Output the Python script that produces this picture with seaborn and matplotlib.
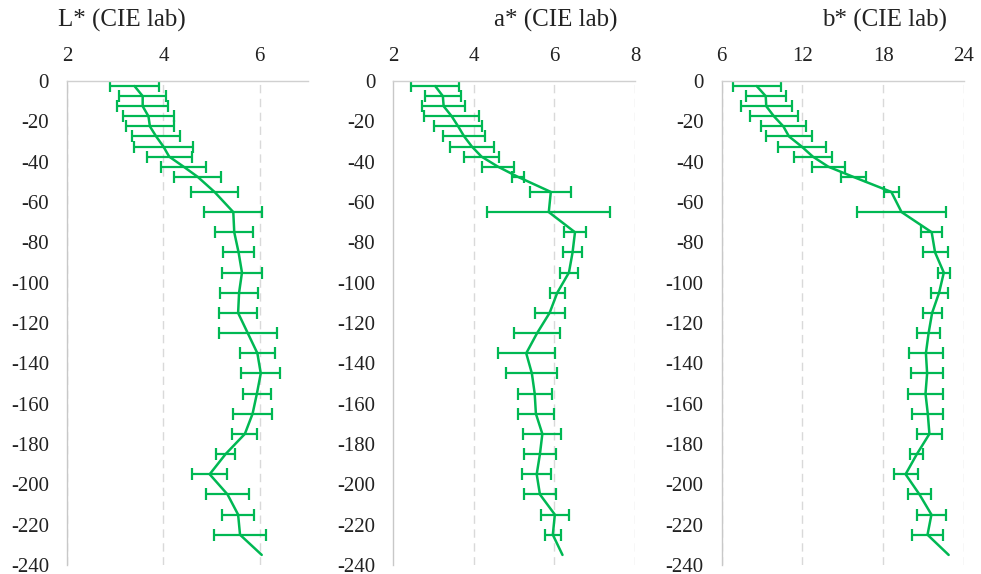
import numpy as np
import pandas as pd
import matplotlib
matplotlib.use("Agg")
import matplotlib.pyplot as plt
import seaborn as sns

sns.set_style("white")
plt.rcParams['font.family'] = ['Liberation Serif', 'DejaVu Serif']
plt.rcParams['axes.unicode_minus'] = False

# profondeur (cm)
depth = [-2.5, -7.5, -12.5, -17.5, -22.5, -27.5, -32.5, -37.5, -42.5, -47.5,
         -55, -65, -75, -85, -95, -105, -115, -125, -135, -145,
         -155, -165, -175, -185, -195, -205, -215, -225, -235]

# L*
L_mean = [3.40, 3.57, 3.57, 3.69, 3.72, 3.85, 4.00, 4.12, 4.42, 4.71,
          5.06, 5.45, 5.47, 5.56, 5.63, 5.57, 5.55, 5.75, 5.95, 6.02,
          5.94, 5.85, 5.69, 5.29, 4.96, 5.33, 5.55, 5.59, 6.04]
L_sd = [0.50, 0.49, 0.53, 0.52, 0.49, 0.50, 0.62, 0.47, 0.46, 0.48,
        0.48, 0.60, 0.39, 0.32, 0.41, 0.40, 0.40, 0.60, 0.37, 0.40,
        0.29, 0.41, 0.26, 0.19, 0.36, 0.45, 0.33, 0.54, np.nan]

# a*
a_mean = [3.04, 3.23, 3.25, 3.45, 3.61, 3.76, 3.95, 4.19, 4.60, 5.09,
          5.91, 5.86, 6.51, 6.45, 6.36, 6.07, 5.88, 5.57, 5.30, 5.44,
          5.51, 5.54, 5.70, 5.64, 5.56, 5.64, 6.01, 5.96, 6.20]
a_sd = [0.60, 0.44, 0.53, 0.68, 0.59, 0.52, 0.54, 0.43, 0.40, 0.15,
        0.51, 1.53, 0.28, 0.24, 0.23, 0.18, 0.37, 0.57, 0.71, 0.63,
        0.42, 0.45, 0.47, 0.39, 0.36, 0.39, 0.34, 0.20, np.nan]

# b*
b_mean = [8.60, 9.27, 9.31, 9.88, 10.58, 11.00, 11.94, 12.77, 13.92, 15.76,
          18.60, 19.36, 21.60, 21.85, 22.50, 22.15, 21.63, 21.37, 21.17, 21.26,
          21.14, 21.31, 21.43, 20.50, 19.66, 20.69, 21.58, 21.29, 22.86]
b_sd = [1.78, 1.49, 1.90, 1.80, 1.68, 1.71, 1.78, 1.40, 1.24, 0.93,
        0.57, 3.30, 0.76, 0.93, 0.45, 0.63, 0.71, 0.87, 1.29, 1.20,
        1.33, 1.15, 0.91, 0.48, 0.89, 0.85, 1.08, 1.16, np.nan]

panels = [
    ("L* (CIE lab)", L_mean, L_sd, (2, 7), [2, 4, 6]),
    ("a* (CIE lab)", a_mean, a_sd, (2, 8), [2, 4, 6, 8]),
    ("b* (CIE lab)", b_mean, b_sd, (6, 24), [6, 12, 18, 24]),
]

green = "#00B853"
fig = plt.figure(figsize=(9.81, 5.74), dpi=100)
axes_pos = [(67, 241), (393.3, 241.7), (721.7, 242.3)]
top_px, bot_px = 81, 565
W, H = 981, 574

for (title, mean, sd, xlim, xticks), (x0, w) in zip(panels, axes_pos):
    ax = fig.add_axes([x0 / W, 1 - bot_px / H, w / W, (bot_px - top_px) / H])
    df = pd.DataFrame({"depth": depth, "val": mean, "sd": sd})
    sns.lineplot(data=df, x="val", y="depth", sort=False, orient="y",
                 color=green, linewidth=1.8, ax=ax)
    ax.errorbar(df["val"], df["depth"], xerr=df["sd"], fmt="none",
                ecolor=green, elinewidth=1.6, capsize=4.5, capthick=1.6)
    ax.set_xlim(*xlim)
    ax.set_ylim(-240, 0)
    ax.set_xticks(xticks)
    ax.set_yticks(np.arange(0, -241, -20))
    ax.xaxis.tick_top()
    ax.tick_params(axis="x", length=0, pad=11, labelsize=15, colors="#222222")
    ax.tick_params(axis="y", length=0, pad=13, labelsize=15, colors="#222222")
    ax.grid(axis="x", color="#D9D9D9", linestyle=(0, (6, 4)), linewidth=1)
    ax.grid(axis="y", visible=False)
    for g in ax.get_xgridlines():
        if abs(g.get_xdata()[0] - xlim[0]) < 1e-9:
            g.set_visible(False)
    ax.spines["right"].set_visible(False)
    ax.spines["bottom"].set_visible(False)
    ax.spines["left"].set_color("#C8C8C8")
    ax.spines["top"].set_color("#D0D0D0")
    ax.spines["left"].set_linewidth(1)
    ax.spines["top"].set_linewidth(1)
    ax.set_xlabel("")
    ax.set_ylabel("")

fig.text(58 / W, 1 - 20 / H, "L* (CIE lab)", fontsize=18, ha="left", va="center", color="#222222")
fig.text(617 / W, 1 - 20 / H, "a* (CIE lab)", fontsize=18, ha="right", va="center", color="#222222")
fig.text(947 / W, 1 - 20 / H, "b* (CIE lab)", fontsize=18, ha="right", va="center", color="#222222")

fig.savefig("out.png", dpi=100)
